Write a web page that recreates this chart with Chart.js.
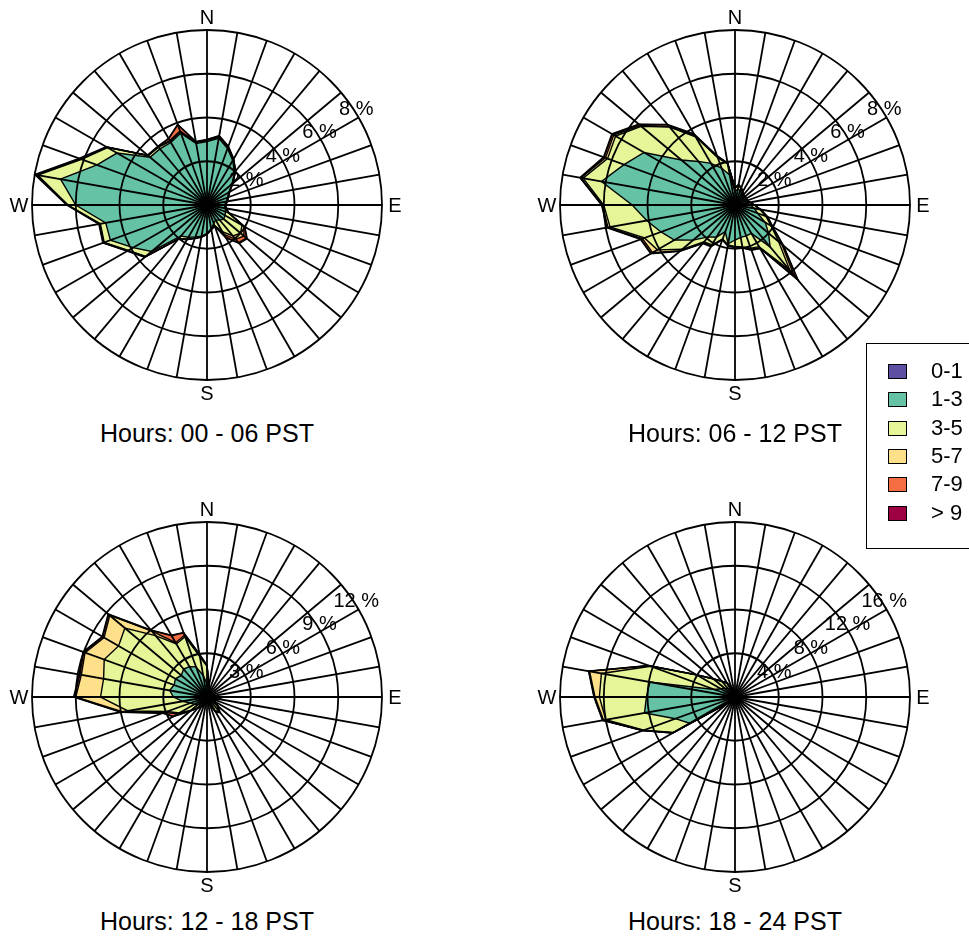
<!DOCTYPE html>
<html>
<head>
<meta charset="utf-8">
<script src="https://cdn.jsdelivr.net/npm/chart.js@4.4.1/dist/chart.umd.min.js"></script>
<style>
  body { margin: 0; background: #fff; width: 969px; height: 939px; overflow: hidden; position: relative;
         font-family: "Liberation Sans", Arial, sans-serif; color: #000; }
  canvas { position: absolute; }
  .title { position: absolute; width: 420px; text-align: center; font-size: 25px; line-height: 28px; }
  .legend { position: absolute; left: 866px; top: 343px; width: 120px; height: 204px; border: 1px solid #000; }
  .legend div { position: absolute; left: 64px; font-size: 22px; line-height: 26px; }
  .legend span { position: absolute; left: -43px; top: 6px; width: 17px; height: 13px; border: 1px solid #000; }
</style>
</head>
<body>
<canvas id="rose1" width="420" height="420"></canvas>
<canvas id="rose2" width="420" height="420"></canvas>
<canvas id="rose3" width="420" height="420"></canvas>
<canvas id="rose4" width="420" height="420"></canvas>
<div class="legend" id="legend"></div>

<script>
// wind directions (degrees), one spoke each
const directions = ['0','10','20','30','40','50','60','70','80','90','100','110','120','130','140','150','160','170',
  '180','190','200','210','220','230','240','250','260','270','280','290','300','310','320','330','340','350'];

// wind speed bins and their colours
const speedBins = ['0-1', '1-3', '3-5', '5-7', '7-9', '> 9'];
const binColours = ['#5E4FA2', '#66C2A5', '#E6F598', '#FEE08B', '#F46D43', '#9E0142'];

// cumulative frequency (%) by direction, up to the top of each speed bin

// Hours 00 - 06
const h00_le1 = [0.3,0.3,0.3,0.25,0.25,0.25,0.2,0.2,0.2,0.2,0.2,0.2,0.2,0.2,0.2,0.2,0.2,0.2,0.25,0.25,0.25,0.25,0.3,0.3,0.3,0.3,0.3,0.35,0.35,0.35,0.3,0.3,0.3,0.3,0.3,0.3];
const h00_le3 = [2.9,3.1,2.75,2.35,1.95,1.5,1.15,1.0,0.9,0.8,0.85,0.9,0.95,1.0,0.9,0.8,0.9,1.1,1.3,1.45,1.55,1.7,1.85,3.3,3.9,4.7,4.7,6.0,6.8,5.35,4.75,3.4,3.35,3.3,3.5,2.85];
const h00_le5 = [2.95,3.15,2.8,2.4,2.0,1.52,1.17,1.02,0.92,0.82,0.87,1.05,1.85,2.0,1.85,1.4,1.0,1.12,1.32,1.47,1.6,1.8,2.0,3.65,4.15,5.0,4.95,6.35,7.85,6.1,5.25,3.5,3.45,3.35,3.55,2.9];
const h00_le7 = [2.97,3.18,2.82,2.42,2.02,1.53,1.18,1.03,0.93,0.83,0.88,1.06,1.95,2.2,2.05,1.55,1.02,1.13,1.33,1.48,1.61,1.81,2.02,3.68,4.18,5.03,4.98,6.38,7.9,6.15,5.28,3.52,3.47,3.4,3.6,2.92];
const h00_le9 = [2.99,3.2,2.84,2.43,2.03,1.54,1.19,1.04,0.94,0.84,0.89,1.07,1.99,2.35,2.25,1.7,1.03,1.14,1.34,1.49,1.62,1.82,2.03,3.7,4.2,5.05,5.0,6.4,7.95,6.2,5.3,3.53,3.48,3.5,3.9,2.93];
const h00_all = [3.0,3.22,2.86,2.44,2.04,1.55,1.2,1.05,0.95,0.85,0.9,1.08,2.0,2.4,2.3,1.75,1.04,1.15,1.35,1.5,1.63,1.83,2.04,3.72,4.22,5.07,5.02,6.42,8.0,6.22,5.32,3.55,3.5,3.52,3.92,2.95];
const h00_ticks = [2, 4, 6, 8];

// Hours 06 - 12
const h06_le1 = [0.25,0.25,0.25,0.2,0.2,0.2,0.2,0.2,0.2,0.2,0.25,0.25,0.25,0.25,0.25,0.25,0.25,0.25,0.25,0.25,0.25,0.25,0.25,0.3,0.3,0.3,0.3,0.3,0.3,0.3,0.3,0.3,0.25,0.25,0.25,0.25];
const h06_le3 = [0.6,0.75,0.7,0.6,0.5,0.5,0.5,0.5,0.55,0.7,0.9,1.1,1.6,2.0,2.5,1.5,1.5,1.5,1.6,1.8,1.3,1.7,1.9,2.5,3.2,3.6,4.1,4.7,6.2,5.4,4.8,3.2,2.6,2.2,1.8,1.4];
const h06_le5 = [0.78,0.9,0.82,0.68,0.58,0.58,0.58,0.58,0.68,0.88,1.15,1.5,1.9,2.6,3.9,2.2,2.1,1.95,1.9,1.85,1.65,2.1,2.2,3.15,4.1,4.4,5.8,6.0,7.05,6.2,6.3,5.6,4.65,3.6,2.3,1.9];
const h06_le7 = [0.79,0.92,0.83,0.69,0.59,0.59,0.59,0.59,0.69,0.89,1.17,1.55,1.95,2.8,4.2,2.25,2.15,1.97,1.92,1.87,1.67,2.15,2.25,3.25,4.35,4.5,5.9,6.05,7.15,6.3,6.4,5.65,4.68,3.63,2.33,1.92];
const h06_le9 = [0.8,0.94,0.84,0.7,0.6,0.6,0.6,0.6,0.7,0.9,1.19,1.58,1.98,2.88,4.45,2.28,2.18,1.99,1.94,1.89,1.69,2.18,2.28,3.28,4.42,4.57,5.93,6.08,7.18,6.37,6.47,5.72,4.78,3.73,2.38,1.94];
const h06_all = [0.8,0.95,0.85,0.7,0.6,0.6,0.6,0.6,0.7,0.9,1.2,1.6,2.0,2.9,4.5,2.3,2.2,2.0,1.95,1.9,1.7,2.2,2.3,3.3,4.45,4.6,5.95,6.1,7.2,6.4,6.5,5.75,4.8,3.75,2.4,1.95];
const h06_ticks = [2, 4, 6, 8];

// Hours 12 - 18
const h12_le1 = [0.2,0.2,0.2,0.2,0.2,0.2,0.2,0.2,0.2,0.2,0.2,0.2,0.2,0.2,0.2,0.2,0.2,0.2,0.2,0.2,0.2,0.2,0.2,0.25,0.25,0.25,0.3,0.3,0.3,0.3,0.3,0.3,0.3,0.3,0.25,0.25];
const h12_le3 = [0.9,0.6,0.45,0.35,0.3,0.28,0.28,0.28,0.33,0.9,0.8,0.45,0.5,0.5,0.5,0.5,0.45,0.35,0.35,0.4,0.45,0.5,0.6,0.8,1.0,1.2,1.7,2.3,2.6,2.4,2.5,2.3,2.5,2.4,2.2,1.5];
const h12_le5 = [2.1,0.75,0.48,0.38,0.33,0.29,0.29,0.29,0.34,0.95,0.85,0.55,0.58,0.9,1.25,1.1,0.48,0.38,0.38,0.48,0.57,0.75,0.95,1.4,2.2,2.9,5.5,7.3,7.2,7.5,7.0,7.35,5.5,4.2,4.4,2.8];
const h12_le7 = [2.15,0.78,0.49,0.39,0.34,0.29,0.29,0.29,0.34,0.97,0.87,0.58,0.59,0.95,1.33,1.15,0.49,0.39,0.39,0.49,0.58,0.77,0.97,1.45,2.3,3.1,5.85,9.0,8.75,8.9,8.15,8.7,5.9,4.3,4.5,2.9];
const h12_le9 = [2.18,0.79,0.5,0.4,0.35,0.3,0.3,0.3,0.35,0.99,0.89,0.59,0.6,0.98,1.38,1.18,0.5,0.4,0.4,0.5,0.6,0.79,0.99,1.48,2.65,3.2,5.95,9.1,8.85,9.0,8.25,8.8,5.97,4.85,4.68,2.97];
const h12_all = [2.2,0.8,0.5,0.4,0.35,0.3,0.3,0.3,0.35,1.0,0.9,0.6,0.6,1.0,1.4,1.2,0.5,0.4,0.4,0.5,0.6,0.8,1.0,1.5,2.7,3.25,6.0,9.15,8.9,9.05,8.3,8.85,6.0,4.9,4.7,3.0];
const h12_ticks = [3, 6, 9, 12];

// Hours 18 - 24
const h18_le1 = [0.2,0.2,0.2,0.2,0.2,0.2,0.2,0.2,0.2,0.2,0.2,0.2,0.2,0.2,0.2,0.2,0.2,0.2,0.2,0.2,0.2,0.2,0.2,0.25,0.3,0.3,0.3,0.3,0.3,0.3,0.25,0.25,0.2,0.2,0.2,0.2];
const h18_le3 = [0.5,0.45,0.4,0.4,0.35,0.35,0.35,0.4,0.45,0.5,0.5,0.45,0.4,0.4,0.4,0.4,0.4,0.45,0.45,0.45,0.5,0.55,0.6,0.7,4.8,5.8,8.4,8.1,7.9,2.0,1.5,1.2,1.0,0.8,0.6,0.55];
const h18_le5 = [0.58,0.48,0.44,0.44,0.39,0.39,0.39,0.44,0.49,0.58,0.54,0.49,0.44,0.44,0.44,0.44,0.44,0.49,0.49,0.49,0.54,0.58,0.68,0.87,6.5,8.85,12.0,12.4,12.4,8.2,4.0,2.55,1.85,1.45,0.88,0.68];
const h18_le7 = [0.59,0.49,0.45,0.45,0.4,0.4,0.4,0.45,0.5,0.59,0.55,0.5,0.45,0.45,0.45,0.45,0.45,0.5,0.5,0.5,0.55,0.59,0.69,0.89,6.55,8.95,12.2,12.8,13.5,8.35,4.05,2.58,1.88,1.48,0.89,0.69];
const h18_le9 = [0.6,0.5,0.45,0.45,0.4,0.4,0.4,0.45,0.5,0.6,0.55,0.5,0.45,0.45,0.45,0.45,0.45,0.5,0.5,0.5,0.55,0.6,0.7,0.9,6.58,8.98,12.27,12.87,13.57,8.38,4.08,2.6,1.9,1.5,0.9,0.7];
const h18_all = [0.6,0.5,0.45,0.45,0.4,0.4,0.4,0.45,0.5,0.6,0.55,0.5,0.45,0.45,0.45,0.45,0.45,0.5,0.5,0.5,0.55,0.6,0.7,0.9,6.6,9.0,12.3,12.9,13.6,8.4,4.1,2.6,1.9,1.5,0.9,0.7];
const h18_ticks = [4, 8, 12, 16];

const panels = [
  { canvas: 'rose1', title: 'Hours: 00 - 06 PST', edges: [h00_le1, h00_le3, h00_le5, h00_le7, h00_le9, h00_all], ticks: h00_ticks },
  { canvas: 'rose2', title: 'Hours: 06 - 12 PST', edges: [h06_le1, h06_le3, h06_le5, h06_le7, h06_le9, h06_all], ticks: h06_ticks },
  { canvas: 'rose3', title: 'Hours: 12 - 18 PST', edges: [h12_le1, h12_le3, h12_le5, h12_le7, h12_le9, h12_all], ticks: h12_ticks },
  { canvas: 'rose4', title: 'Hours: 18 - 24 PST', edges: [h18_le1, h18_le3, h18_le5, h18_le7, h18_le9, h18_all], ticks: h18_ticks }
];

// page placement of each rose: centre x, centre y, title y
const placement = [
  { cx: 207, cy: 205, ty: 433 },
  { cx: 735, cy: 205, ty: 433 },
  { cx: 207, cy: 697, ty: 921 },
  { cx: 735, cy: 697, ty: 921 }
];

const FONT = '"Liberation Sans", Arial, sans-serif';

// compass letters and % labels, drawn over everything
const roseText = {
  id: 'roseText',
  afterDraw(chart, args, opts) {
    const r = chart.scales.r;
    const ctx = chart.ctx;
    ctx.save();
    ctx.fillStyle = '#000';
    ctx.font = '20px ' + FONT;
    ctx.textAlign = 'center';
    ctx.textBaseline = 'middle';
    [['N', 0], ['E', 9], ['S', 18], ['W', 27]].forEach(([t, i]) => {
      const p = r.getPointPosition(i, r.drawingArea + 13);
      ctx.fillText(t, p.x, p.y + 1);
    });
    const a = (57 - 90) * Math.PI / 180;
    opts.ticks.forEach(v => {
      const d = r.getDistanceFromCenterForValue(v) + 3;
      ctx.fillText(v + ' %', r.xCenter + Math.cos(a) * d, r.yCenter + Math.sin(a) * d + 1);
    });
    ctx.restore();
  }
};

panels.forEach((p, k) => {
  const pos = placement[k];
  const cv = document.getElementById(p.canvas);
  cv.style.left = (pos.cx - 210) + 'px';
  cv.style.top = (pos.cy - 210) + 'px';

  const t = document.createElement('div');
  t.className = 'title';
  t.textContent = p.title;
  t.style.left = (pos.cx - 210) + 'px';
  t.style.top = (pos.ty - 14) + 'px';
  document.body.appendChild(t);

  new Chart(cv, {
    type: 'radar',
    data: {
      labels: directions,
      datasets: speedBins.map((bin, i) => ({
        label: bin,
        data: p.edges[i],
        backgroundColor: binColours[i],
        borderColor: '#000',
        borderWidth: 1.4,
        fill: 'origin',
        pointRadius: 0
      }))
    },
    options: {
      responsive: false,
      animation: false,
      devicePixelRatio: 1,
      layout: { padding: 35 },
      elements: { line: { tension: 0 } },
      plugins: {
        legend: { display: false },
        tooltip: { enabled: false },
        filler: { drawTime: 'beforeDraw' },
        roseText: { ticks: p.ticks }
      },
      scales: {
        r: {
          min: 0,
          max: p.ticks[p.ticks.length - 1],
          ticks: { display: false, stepSize: p.ticks[0] },
          grid: { circular: true, color: '#000', lineWidth: 1.8 },
          angleLines: { display: true, color: '#000', lineWidth: 1.8 },
          pointLabels: { display: false }
        }
      }
    },
    plugins: [roseText]
  });
});

// legend
const legend = document.getElementById('legend');
speedBins.forEach((bin, i) => {
  const row = document.createElement('div');
  row.style.top = (14 + i * 28.3) + 'px';
  row.innerHTML = '<span style="background:' + binColours[i] + '"></span>' + bin;
  legend.appendChild(row);
});
</script>
</body>
</html>
